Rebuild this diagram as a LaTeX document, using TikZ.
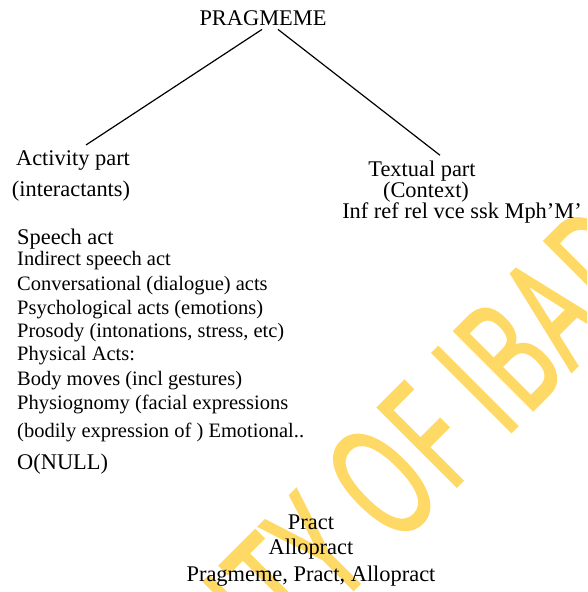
\documentclass[tikz,border=0pt]{standalone}
\usepackage{fontspec}
\setmainfont{Liberation Serif}
\newfontfamily\markfont[FakeStretch=0.6, FakeBold=1.6, LetterSpace=3]{Open Sans}
\usetikzlibrary{positioning}
\definecolor{colorMark}{RGB}{255, 217, 102}
\tikzstyle{head} = [inner sep=0pt, anchor=base, font=\fontsize{22.4}{26}\selectfont]
\tikzstyle{item} = [inner sep=0pt, anchor=base west, font=\fontsize{20.5}{24}\selectfont]
\tikzstyle{itembig} = [inner sep=0pt, anchor=base west, font=\fontsize{22.4}{26}\selectfont]
\tikzstyle{branch} = [line width=1.2pt]
\tikzstyle{wmarktext} = [inner sep=0pt, anchor=base, rotate=45, text=colorMark, font=\markfont\fontsize{156}{160}\selectfont]

\begin{document}
\begin{tikzpicture}[x=1pt, y=-1pt]

		\useasboundingbox (0,0) rectangle (587,592);

		% watermark
		\begin{scope}
			\clip (0,0) rectangle (587,592);
			\node (wmark)[wmarktext] at (505,438) {\llap{UNIVERSITY OF }\rlap{IBADAN LIBRARY}};
		\end{scope}

		% tree
		\node (root)[head] at (263,25) {PRAGMEME};
		\node (act)[head] at (73,165) {Activity part};
		\node (actSub)[head] at (71,196) {(interactants)};
		\node (txt)[head] at (422,176) {Textual part};
		\node (txtSub)[head] at (426,197) {(Context)};
		\node (txtList)[head] at (462,218) {Inf ref rel vce ssk Mph’M’};

		% activity list
		\node (lSpeech)[itembig] at (17,244) {Speech act};
		\node (lIndirect)[item] at (17,265) {Indirect speech act};
		\node (lConv)[item] at (17,290) {Conversational (dialogue) acts};
		\node (lPsych)[item] at (17,314) {Psychological acts (emotions)};
		\node (lProsody)[item] at (17,337) {Prosody (intonations, stress, etc)};
		\node (lPhys)[item] at (17,360) {Physical Acts:};
		\node (lBody)[item] at (17,385) {Body moves (incl gestures)};
		\node (lPhysio)[item] at (17,409) {Physiognomy (facial expressions};
		\node (lBodily)[item] at (17,437) {(bodily expression of ) Emotional..};
		\node (lNull)[itembig] at (17,469) {O(NULL)};

		% bottom
		\node (pract)[head] at (311,529) {Pract};
		\node (allo)[head] at (311,554) {Allopract};
		\node (all)[head] at (311,581) {Pragmeme, Pract, Allopract};

		% lines
		\draw[branch] ([xshift=-1pt, yshift=-4pt]root.south) -- ([xshift=13pt, yshift=5pt]act.north);
		\draw[branch] ([xshift=15pt, yshift=-4pt]root.south) -- ([xshift=18pt, yshift=5pt]txt.north);

	\end{tikzpicture}
\end{document}
